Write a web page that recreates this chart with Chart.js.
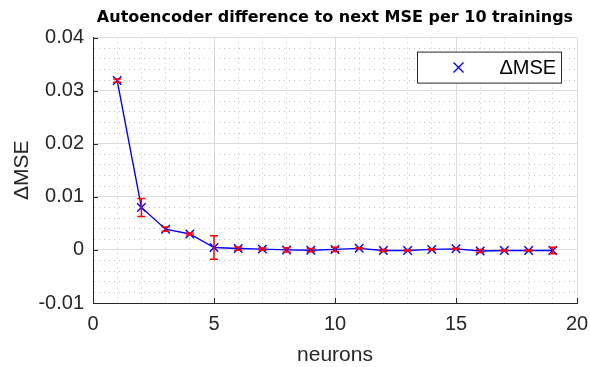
<!DOCTYPE html>
<html>
<head>
<meta charset="utf-8">
<script src="https://cdn.jsdelivr.net/npm/chart.js@4.4.0/dist/chart.umd.min.js"></script>
<style>
	html, body { margin: 0; padding: 0; background: #fff; }
</style>
</head>
<body>
<canvas id="chartjsErr" width="590" height="367"></canvas>
<script>
	'use strict';

	// data
	var neurons = [1, 2, 3, 4, 5, 6, 7, 8, 9, 10, 11, 12, 13, 14, 15, 16, 17, 18, 19];
	var dMse = [0.0319, 0.0080, 0.0039, 0.0030, 0.00045, 0.00026, 0.00015, 0.0000, -0.00005, 0.0001,
		0.0003, -0.0001, -0.0001, 0.0001, 0.0002, -0.0002, -0.0001, -0.0001, -0.0001];
	var dMseErr = [0.0003, 0.0017, 0.0004, 0.0002, 0.0022, 0.0003, 0.0002, 0.0004, 0.0003, 0.0004,
		0.0001, 0.0002, 0.0001, 0.0001, 0.0001, 0.0003, 0.0001, 0.0001, 0.0006];
	var xTicks = [0, 5, 10, 15, 20];
	var yTicks = [-0.01, 0, 0.01, 0.02, 0.03, 0.04];

	var colors = {
		blue : "#0000ff",
		red : "#ff0000",
		axis : "#262626",
		majorGrid : "#dcdcdc",
		minorGrid : "#c2c2c2"
	};
	var fontFamily = "'Liberation Sans', Arial, sans-serif";

	function majorOf(list, v) {
		for (var i = 0; i < list.length; i++) {
			if (Math.abs(list[i] - v) < 1e-9) return list[i];
		}
		return null;
	}

	var points = neurons.map(function(n, i) { return { x : n, y : dMse[i] }; });

	// red error bars, drawn through the scales
	var errorBars = {
		id : 'errorBars',
		afterDatasetsDraw : function(chart) {
			var ctx = chart.ctx, xs = chart.scales.x, ys = chart.scales.y;
			ctx.save();
			ctx.strokeStyle = colors.red;
			ctx.lineWidth = 1.5;
			for (var i = 0; i < neurons.length; i++) {
				var px = xs.getPixelForValue(neurons[i]);
				var top = ys.getPixelForValue(dMse[i] + dMseErr[i]);
				var bot = ys.getPixelForValue(dMse[i] - dMseErr[i]);
				ctx.beginPath();
				ctx.moveTo(px, top); ctx.lineTo(px, bot);
				ctx.moveTo(px - 4, top); ctx.lineTo(px + 4, top);
				ctx.moveTo(px - 4, bot); ctx.lineTo(px + 4, bot);
				ctx.stroke();
			}
			ctx.restore();
		}
	};

	// inward ticks + legend box inside the plot
	var axisExtras = {
		id : 'axisExtras',
		afterDraw : function(chart) {
			var ctx = chart.ctx, a = chart.chartArea, xs = chart.scales.x, ys = chart.scales.y;
			ctx.save();
			ctx.strokeStyle = colors.axis;
			ctx.lineWidth = 1;
			ctx.beginPath();
			xTicks.forEach(function(t) {
				var px = Math.round(xs.getPixelForValue(t)) + 0.5;
				ctx.moveTo(px, a.bottom); ctx.lineTo(px, a.bottom - 5);
			});
			yTicks.forEach(function(t) {
				var py = Math.round(ys.getPixelForValue(t)) + 0.5;
				ctx.moveTo(a.left, py); ctx.lineTo(a.left + 5, py);
			});
			ctx.stroke();

			// legend
			var bx = a.right - 159.5, by = a.top + 14.5, bw = 144, bh = 31;
			ctx.fillStyle = '#fff';
			ctx.fillRect(bx, by, bw, bh);
			ctx.strokeStyle = '#262626';
			ctx.strokeRect(bx, by, bw, bh);
			var mx = bx + 41, my = by + bh / 2;
			ctx.strokeStyle = colors.blue;
			ctx.lineWidth = 1.4;
			ctx.beginPath();
			ctx.moveTo(mx - 5, my - 5); ctx.lineTo(mx + 5, my + 5);
			ctx.moveTo(mx - 5, my + 5); ctx.lineTo(mx + 5, my - 5);
			ctx.stroke();
			ctx.fillStyle = '#000';
			ctx.font = '20px ' + fontFamily;
			ctx.textBaseline = 'middle';
			ctx.textAlign = 'left';
			ctx.fillText(chart.data.datasets[0].label, bx + 82, my + 1);
			ctx.restore();
		}
	};

	new Chart(document.getElementById('chartjsErr'), {
		type : 'line',
		data : {
			datasets : [ {
				label : "\u0394MSE",
				data : points,
				borderColor : colors.blue,
				borderWidth : 1.4,
				pointStyle : 'crossRot',
				pointRadius : 6,
				pointBorderColor : colors.blue,
				pointBorderWidth : 1.4,
				fill : false,
				tension : 0
			} ]
		},
		options : {
			responsive : false,
			animation : false,
			layout : {
				padding : { left : 0, right : 0, top : 0, bottom : 0 }
			},
			plugins : {
				legend : { display : false },
				tooltip : { enabled : false },
				title : {
					display : true,
					fullSize : false,
					text : 'Autoencoder difference to next MSE per 10 trainings',
					color : '#000',
					font : { family : "'DejaVu Sans', sans-serif", size : 16, weight : 'bold', lineHeight : 1.1 },
					padding : { top : 9, bottom : 11 }
				}
			},
			scales : {
				x : {
					type : 'linear',
					min : 0,
					max : 20,
					afterFit : function(scale) {
						scale.height = 64;
						scale.paddingRight = 13;
						scale.paddingLeft = 0;
					},
					ticks : {
						stepSize : 1,
						autoSkip : false,
						maxRotation : 0,
						padding : 9,
						color : colors.axis,
						font : { family : fontFamily, size : 20 },
						callback : function(v) {
							var m = majorOf(xTicks, v);
							return m === null ? '' : String(m);
						}
					},
					grid : {
						drawTicks : false,
						color : function(c) {
							return majorOf(xTicks, c.tick ? c.tick.value : NaN) === null ? colors.minorGrid : colors.majorGrid;
						}
					},
					border : {
						display : true,
						color : colors.axis,
						width : 1,
						dash : function(c) {
							return majorOf(xTicks, c.tick ? c.tick.value : NaN) === null ? [1, 4] : [];
						}
					},
					title : {
						display : true,
						text : 'neurons',
						color : colors.axis,
						font : { family : fontFamily, size : 21, lineHeight : 1 },
						padding : { top : 0, bottom : 1 }
					}
				},
				y : {
					type : 'linear',
					min : -0.01,
					max : 0.04,
					afterFit : function(scale) { scale.width = 93; },
					ticks : {
						stepSize : 0.002,
						autoSkip : false,
						padding : 9,
						color : colors.axis,
						font : { family : fontFamily, size : 20 },
						callback : function(v) {
							var m = majorOf(yTicks, v);
							if (m === null) return '';
							return m === 0 ? '0' : m.toFixed(2);
						}
					},
					grid : {
						drawTicks : false,
						color : function(c) {
							return majorOf(yTicks, c.tick ? c.tick.value : NaN) === null ? colors.minorGrid : colors.majorGrid;
						}
					},
					border : {
						display : true,
						color : colors.axis,
						width : 1,
						dash : function(c) {
							return majorOf(yTicks, c.tick ? c.tick.value : NaN) === null ? [1, 4] : [];
						}
					},
					title : {
						display : true,
						text : '\u0394MSE',
						color : colors.axis,
						font : { family : fontFamily, size : 21, lineHeight : 1 },
						padding : { top : 12, bottom : 0 }
					}
				}
			}
		},
		plugins : [ errorBars, axisExtras ]
	});
</script>
</body>
</html>
